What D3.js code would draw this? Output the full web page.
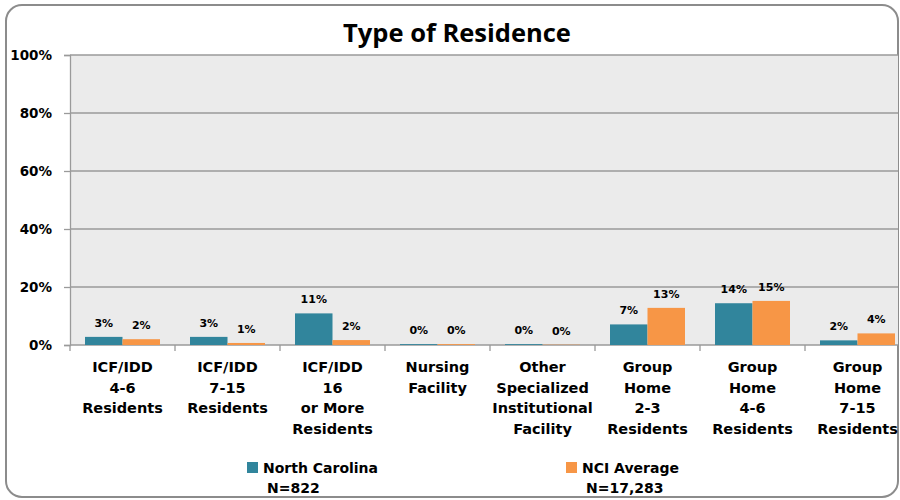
<!DOCTYPE html>
<html><head><meta charset="utf-8">
<script src="https://cdn.jsdelivr.net/npm/d3@7"></script>
<style>body{margin:0;background:#fff}svg{display:block}text{font-family:"DejaVu Sans",Verdana,sans-serif;font-weight:bold;fill:#000}</style>
</head><body><svg id="c" width="900" height="500"></svg>
<script>
const categories = [
  ["ICF/IDD","4-6","Residents"],
  ["ICF/IDD","7-15","Residents"],
  ["ICF/IDD","16","or More","Residents"],
  ["Nursing","Facility"],
  ["Other","Specialized","Institutional","Facility"],
  ["Group","Home","2-3","Residents"],
  ["Group","Home","4-6","Residents"],
  ["Group","Home","7-15","Residents"]
];
const seriesNames = ["North Carolina", "NCI Average"];
const seriesN = ["N=822", "N=17,283"];
const northCarolina = [2.8, 2.8, 10.9, 0.3, 0.3, 7.1, 14.4, 1.6];
const nciAverage = [2.0, 0.7, 1.7, 0.3, 0.1, 12.8, 15.2, 4.0];
const yTicks = [0, 20, 40, 60, 80, 100];
const colors = ["#31859c", "#f79646"];

const svg = d3.select("#c");
const pLeft = 70, pRight = 910, pTop = 55, pBottom = 345;

// outer rounded border
svg.append("rect").attr("x", 6).attr("y", 5).attr("width", 892).attr("height", 492)
  .attr("rx", 16).attr("fill", "#fff").attr("stroke", "#8c8c8c").attr("stroke-width", 2);

const x = d3.scaleBand().domain(d3.range(categories.length)).range([pLeft, pRight]).paddingInner(0).paddingOuter(0);
const x1 = d3.scaleBand().domain([0, 1]).range([0, x.bandwidth()]).paddingOuter(0.4).paddingInner(0);
const y = d3.scaleLinear().domain([0, 100]).range([pBottom, pTop]);

svg.append("defs").append("clipPath").attr("id", "cl")
  .append("rect").attr("x", 6).attr("y", 5).attr("width", 892).attr("height", 492).attr("rx", 16);
const g = svg.append("g").attr("clip-path", "url(#cl)");

g.append("rect").attr("x", pLeft).attr("y", pTop).attr("width", pRight - pLeft).attr("height", pBottom - pTop).attr("fill", "#ebebeb");

// gridlines
g.selectAll("line.grid").data(yTicks).enter().append("line")
  .attr("x1", pLeft).attr("x2", pRight).attr("y1", d => y(d)).attr("y2", d => y(d))
  .attr("stroke", "#9a9a9a").attr("stroke-width", 1.3);

// y axis
const yAxis = d3.axisLeft(y).tickValues(yTicks).tickFormat(d => d + "%").tickSize(6).tickPadding(12);
const ya = svg.append("g").attr("transform", `translate(${pLeft},0)`).call(yAxis);
ya.select(".domain").attr("stroke", "#9a9a9a").attr("stroke-width", 1.3);
ya.selectAll(".tick line").attr("stroke", "#9a9a9a").attr("stroke-width", 1.3);
ya.selectAll(".tick text").attr("font-size", 13.5).attr("fill", "#000").style("font-family", "'DejaVu Sans',sans-serif").style("font-weight", "bold");

// x ticks
g.selectAll("line.xt").data(d3.range(categories.length + 1)).enter().append("line")
  .attr("x1", d => pLeft + d * x.bandwidth()).attr("x2", d => pLeft + d * x.bandwidth())
  .attr("y1", pBottom).attr("y2", pBottom + 6).attr("stroke", "#9a9a9a").attr("stroke-width", 1.3);

const series = [northCarolina, nciAverage];
const fmt = d3.format(".0f");
series.forEach((vals, si) => {
  g.selectAll(null).data(vals).enter().append("rect")
    .attr("x", (d, i) => x(i) + x1(si)).attr("width", x1.bandwidth())
    .attr("y", d => y(d)).attr("height", d => y(0) - y(d)).attr("fill", colors[si]);
  g.selectAll(null).data(vals).enter().append("text")
    .attr("x", (d, i) => x(i) + x1(si) + x1.bandwidth() / 2)
    .attr("y", d => y(d) - 10).attr("text-anchor", "middle").attr("font-size", 11)
    .text(d => fmt(d) + "%");
});

// category labels
categories.forEach((lines, i) => {
  const t = g.append("text").attr("text-anchor", "middle").attr("font-size", 14.5);
  lines.forEach((ln, j) => {
    t.append("tspan").attr("x", x(i) + x.bandwidth() / 2).attr("y", 372 + j * 20.5).text(ln);
  });
});

// title
svg.append("text").attr("x", 457).attr("y", 42).attr("text-anchor", "middle").attr("font-size", 25.5)
  .style("font-family", "'Open Sans',sans-serif").text("Type of Residence");

// legend
const legX = [247, 566];
seriesNames.forEach((n, i) => {
  svg.append("rect").attr("x", legX[i]).attr("y", 462).attr("width", 11).attr("height", 11).attr("fill", colors[i]);
  svg.append("text").attr("x", legX[i] + 16).attr("y", 473).attr("font-size", 14).text(n);
  svg.append("text").attr("x", legX[i] + 20).attr("y", 493).attr("font-size", 14).text(seriesN[i]);
});
</script></body></html>
